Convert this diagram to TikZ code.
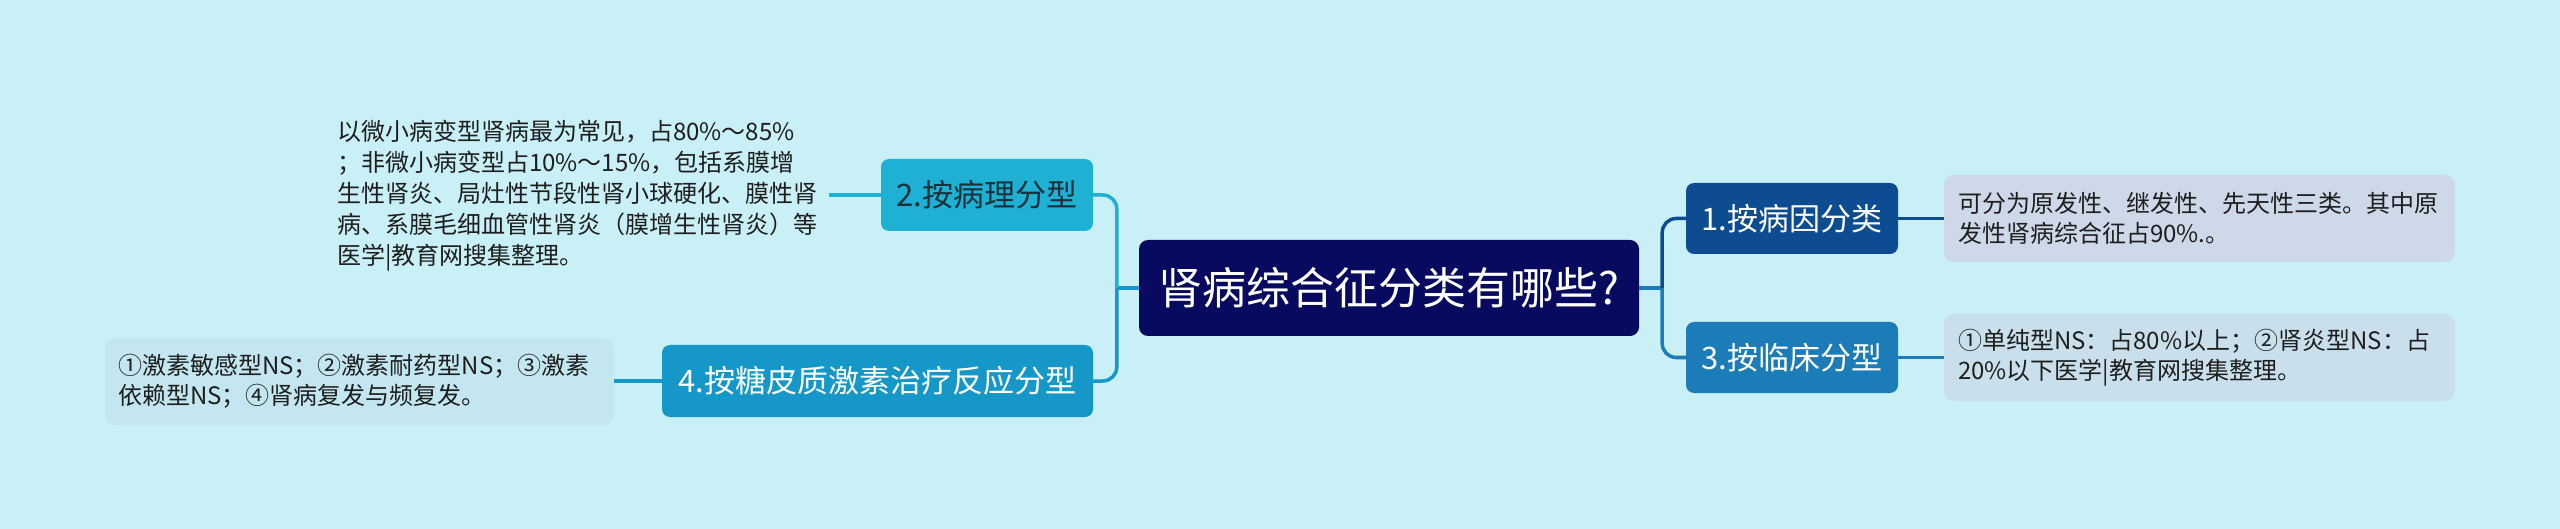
\documentclass[tikz,border=0pt]{standalone}
\usepackage{fontspec}
\setmainfont{Noto Sans CJK SC}
\usetikzlibrary{calc}
\definecolor{bg}{HTML}{C9EFF7}
\definecolor{rootc}{HTML}{070A5E}
\definecolor{c1}{HTML}{0E4C91}
\definecolor{c3}{HTML}{1B7CB8}
\definecolor{c2}{HTML}{1FB1D3}
\definecolor{c4}{HTML}{1597C7}
\definecolor{n1}{HTML}{CDD8E8}
\definecolor{n3}{HTML}{C9E0EC}
\definecolor{n4}{HTML}{C3E6F0}
\definecolor{txt}{HTML}{1E1E1E}
\definecolor{dtxt}{HTML}{17323D}
\begin{document}
\begin{tikzpicture}[x=1pt,y=-1pt,
  topic/.style={rounded corners=8pt, inner sep=0pt, align=center, minimum height=71pt,
    font=\fontsize{31}{36}\selectfont, text=white},
  notebox/.style={rounded corners=10pt, inner xsep=14pt, inner ysep=0pt, minimum height=87pt,
    align=left, font=\fontsize{24}{30}\selectfont, text=txt},
  link/.style={line width=3.5pt},
  branch/.style={line width=3.5pt, rounded corners=14pt}]
\fill[bg] (0,0) rectangle (2560,529);
\useasboundingbox (0,0) rectangle (2560,529);

% root
\node[rounded corners=9pt, fill=rootc, text=white, inner sep=0pt, minimum width=500pt, minimum height=96pt,
  font=\fontsize{44}{50}\selectfont] (root) at (1389,288) {肾病综合征分类有哪些?\hspace{20pt}};

% right topics
\node[topic, fill=c1, minimum width=212pt] (t1) at (1792,218.5) {1.按病因分类};
\node[topic, fill=c3, minimum width=212pt] (t3) at (1792,357.5) {3.按临床分型};
% left topics
\node[topic, fill=c2, minimum width=212pt, text=dtxt, minimum height=72pt] (t2) at (987,195) {2.按病理分型};
\node[topic, fill=c4, minimum width=431pt, minimum height=72pt] (t4) at (877.5,381) {4.按糖皮质激素治疗反应分型};

% notes
\node[notebox, fill=n1, text width=483pt] (m1) at (2199.5,218.5)
  {可分为原发性、继发性、先天性三类。其中原\\发性肾病综合征占90\%.。};
\node[notebox, fill=n3, text width=483pt] (m3) at (2199.5,357.5)
  {①单纯型NS：占80\%以上；②肾炎型NS：占\\20\%以下医学|教育网搜集整理。};
\node[notebox, fill=n4, text width=483pt, inner xsep=13pt] (m4) at (359.5,381.5)
  {①激素敏感型NS；②激素耐药型NS；③激素\\依赖型NS；④肾病复发与频复发。};
\node[inner xsep=12pt, inner ysep=0pt, align=left, font=\fontsize{24}{31}\selectfont, text=txt, anchor=west] (m2) at (325,196)
  {以微小病变型肾病最为常见，占80\%～85\%\\；非微小病变型占10\%～15\%，包括系膜增\\生性肾炎、局灶性节段性肾小球硬化、膜性肾\\病、系膜毛细血管性肾炎（膜增生性肾炎）等\\医学|教育网搜集整理。};

% junctions
\coordinate (jr) at ($(root.east)+(23,0)$);
\coordinate (jl) at ($(root.west)+(-22,0)$);

% right connectors
\draw[link, c3] (root.east) -- (jr);
\draw[branch, c1] (jr) |- (t1.west);
\draw[branch, c3] (jr) |- (t3.west);
\draw[link, c1] (t1.east) -- (m1.west);
\draw[link, c3] (t3.east) -- (m3.west);

% left connectors
\draw[link, c4] (root.west) -- (jl);
\draw[branch, c2] (jl) |- (t2.east);
\draw[branch, c4] (jl) |- (t4.east);
\draw[link, c2] (t2.west) -- (m2.east |- t2.west);
\draw[link, c4] (t4.west) -- (m4.east |- t4.west);
\end{tikzpicture}
\end{document}
